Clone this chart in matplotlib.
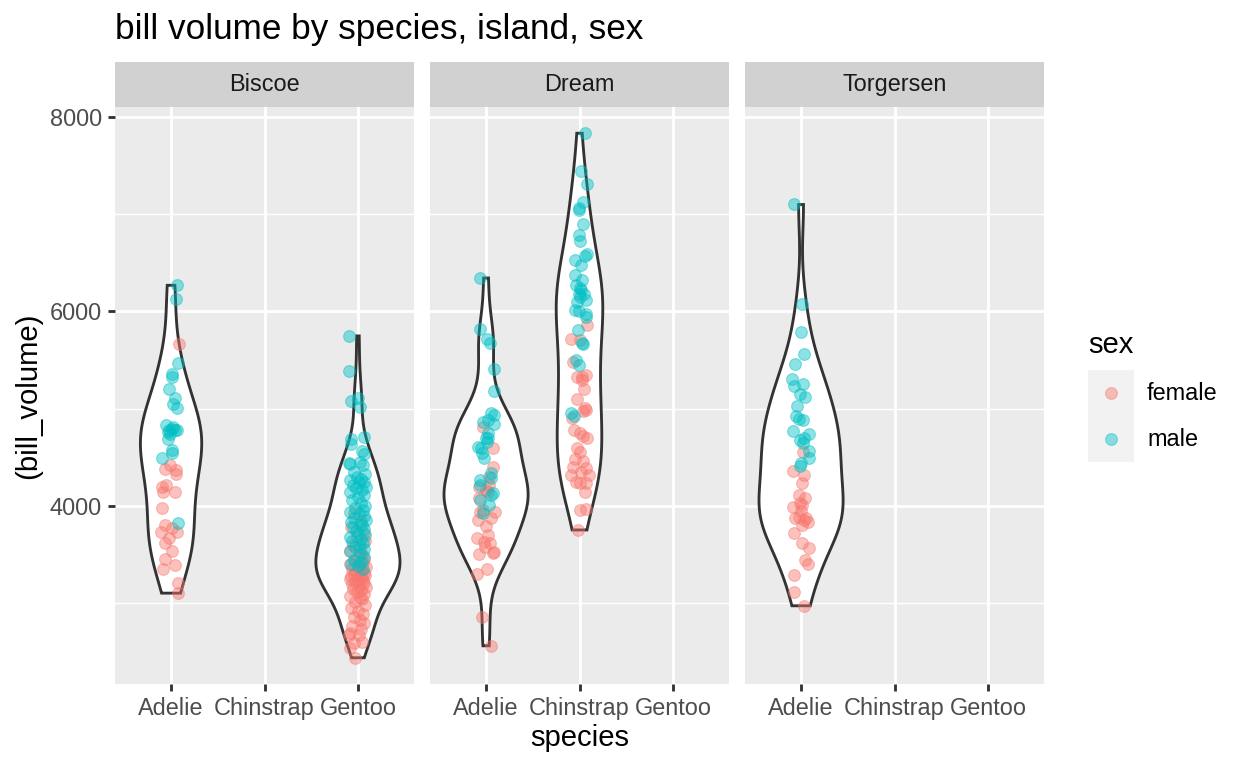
import numpy as np
import matplotlib
matplotlib.use("Agg")
import matplotlib.pyplot as plt

plt.rcParams['font.family'] = ['Liberation Sans', 'DejaVu Sans']

islands = ["Biscoe", "Dream", "Torgersen"]
species = ["Adelie", "Chinstrap", "Gentoo"]
sexes = ["female", "male"]
sex_colors = {"female": "#F8766D", "male": "#00BFC4"}
title = "bill volume by species, island, sex"
x_label = "species"
y_label = "(bill_volume)"
y_major = [4000, 6000, 8000]
y_minor = [3000, 5000, 7000]

# ---- Biscoe / Adelie ----
biscoe_adelie_female = [5662, 4380, 4370, 4328, 4216, 4198, 4147, 4147, 3983, 3805, 3737,
                        3771, 3737, 3669, 3618, 3542, 3454, 3395, 3351, 3214, 3105, 4420]
biscoe_adelie_female_dx = [0.09, -0.06, 0.05, 0.05, -0.05, -0.10, -0.09, 0.04, -0.10, -0.06, -0.11,
                           0.01, 0.06, -0.02, -0.06, 0.01, -0.07, 0.04, -0.09, 0.07, 0.07, -0.01]
biscoe_adelie_male = [6267, 6130, 5470, 5351, 5326, 5203, 5105, 5046, 5002, 4831, 4780,
                      4780, 4780, 4790, 4760, 4684, 4575, 4547, 4496, 3823, 4810, 4740]
biscoe_adelie_male_dx = [0.06, 0.05, 0.07, 0.01, 0.01, -0.02, 0.04, 0.02, 0.06, -0.05, -0.02,
                         0.06, 0.04, 0.01, -0.03, -0.03, 0.01, 0.01, -0.10, 0.07, 0.02, -0.01]

# ---- Biscoe / Gentoo ----
biscoe_gentoo_female = [3930, 3850, 3780, 3720, 3680, 3640, 3600, 3570, 3540, 3510,
                        3480, 3460, 3440, 3420, 3400, 3385, 3370, 3355, 3340, 3325,
                        3310, 3300, 3290, 3280, 3270, 3260, 3250, 3240, 3230, 3220,
                        3210, 3195, 3180, 3165, 3150, 3135, 3120, 3100, 3080, 3060,
                        3040, 3010, 2980, 2950, 2920, 2890, 2860, 2830, 2800, 2770,
                        2740, 2700, 2680, 2677, 2600, 2595, 2544, 2441]
biscoe_gentoo_female_dx = [-0.04, 0.03, -0.07, 0.06, -0.01, 0.08, -0.05, 0.02, -0.09, 0.04,
                           0.00, 0.07, -0.03, 0.05, -0.08, 0.01, 0.09, -0.06, 0.03, -0.02,
                           0.06, -0.04, 0.08, -0.07, 0.02, 0.04, -0.09, 0.00, 0.05, -0.03,
                           0.07, -0.06, 0.01, 0.09, -0.05, 0.03, -0.01, 0.06, -0.08, 0.02,
                           0.04, -0.03, 0.08, -0.07, 0.00, 0.05, -0.04, 0.02, 0.07, -0.06,
                           0.03, -0.08, 0.01, -0.10, 0.04, -0.04, -0.08, -0.03]
biscoe_gentoo_male = [5747, 5388, 5105, 5077, 5019, 4705, 4687, 4636, 4564, 4533,
                      4455, 4444, 4431, 4420, 4350, 4330, 4300, 4280, 4270, 4250,
                      4240, 4220, 4200, 4180, 4160, 4140, 4110, 4090, 4060, 4030,
                      4000, 3980, 3960, 3940, 3920, 3900, 3880, 3860, 3840, 3820,
                      3800, 3780, 3760, 3740, 3720, 3700, 3680, 3660, 3640, 3620,
                      3600, 3580, 3560, 3540, 3510, 3480, 3450, 3420, 3400, 3380, 3350]
biscoe_gentoo_male_dx = [-0.10, -0.10, 0.00, -0.07, 0.02, 0.06, -0.07, -0.07, 0.04, 0.06,
                         0.02, -0.10, -0.08, 0.05, -0.04, 0.08, -0.01, 0.03, -0.09, 0.06,
                         0.01, -0.05, 0.09, -0.02, 0.04, -0.08, 0.07, 0.00, -0.06, 0.03,
                         0.08, -0.03, 0.05, -0.09, 0.01, 0.06, -0.04, 0.09, -0.07, 0.02,
                         0.04, -0.05, 0.07, -0.02, 0.00, 0.08, -0.08, 0.03, -0.06, 0.05,
                         0.01, -0.03, 0.07, -0.09, 0.02, 0.06, -0.04, 0.03, -0.07, 0.00, 0.05]

# ---- Dream / Adelie ----
dream_adelie_female = [4814, 4592, 4397, 4198, 4147, 4215, 3942, 3857, 3936, 3798,
                       3669, 3634, 3618, 3505, 3515, 3526, 3354, 3303, 2855, 2564,
                       4160, 4300, 4080, 3960, 3880, 3700, 3580]
dream_adelie_female_dx = [-0.03, 0.07, 0.07, -0.08, 0.02, 0.03, -0.07, -0.09, 0.10, 0.00,
                          -0.10, -0.02, 0.04, -0.08, 0.07, 0.09, 0.01, -0.10, -0.04, 0.05,
                          0.00, 0.03, -0.08, -0.03, 0.05, 0.02, -0.01]
dream_adelie_male = [6342, 5822, 5713, 5679, 5412, 5180, 4951, 4933, 4838, 4865,
                     4882, 4746, 4694, 4660, 4608, 4598, 4541, 4496, 4335, 4284,
                     4267, 4215, 4130, 4113, 4062, 4010, 3925, 4700]
dream_adelie_male_dx = [-0.06, -0.06, 0.01, 0.04, 0.09, 0.09, 0.05, 0.09, 0.09, -0.03,
                        0.02, 0.02, 0.02, 0.01, -0.09, -0.05, -0.04, -0.02, 0.05, 0.05,
                        -0.06, -0.07, 0.07, 0.05, -0.07, 0.03, -0.03, 0.00]

# ---- Dream / Chinstrap ----
dream_chinstrap_female = [5856, 5720, 5703, 5480, 5320, 5320, 5344, 5292, 5094, 4900,
                          4978, 4985, 4780, 4746, 4718, 4694, 4557, 4479, 4465, 4403,
                          4387, 4318, 4318, 4250, 4239, 4233, 4147, 3959, 3966, 3754,
                          5200, 4600, 4350, 5010]
dream_chinstrap_female_dx = [0.08, -0.09, 0.01, -0.07, -0.03, 0.03, 0.07, 0.03, -0.03, -0.08,
                             0.04, 0.07, -0.06, 0.00, 0.04, 0.08, 0.00, -0.05, 0.04, -0.07,
                             0.07, -0.09, 0.10, -0.04, 0.00, 0.07, 0.06, 0.00, 0.07, -0.02,
                             0.05, -0.03, 0.02, 0.06]
dream_chinstrap_male = [7829, 7439, 7303, 7121, 7064, 7043, 6892, 6779, 6721, 6585,
                        6564, 6523, 6472, 6369, 6318, 6267, 6215, 6181, 6181, 6147,
                        6113, 6017, 6003, 5976, 5942, 5805, 5675, 5669, 5498, 5446,
                        4951, 6240, 6100, 4920]
dream_chinstrap_male_dx = [0.06, 0.02, 0.08, 0.04, -0.01, -0.01, 0.04, -0.01, 0.00, 0.08,
                           0.06, -0.05, 0.02, -0.05, 0.03, -0.04, 0.02, -0.01, 0.05, 0.00,
                           0.07, -0.05, -0.01, 0.07, 0.07, -0.02, 0.03, 0.04, -0.04, -0.01,
                           -0.09, 0.01, -0.03, -0.06]

# ---- Torgersen / Adelie ----
torgersen_adelie_female = [4557, 4359, 4318, 4239, 4113, 4028, 3993, 4010, 3874, 3884,
                           3874, 3839, 3805, 3720, 3624, 3566, 3446, 3405, 3292, 3121,
                           2975, 3950, 3860, 4080]
torgersen_adelie_female_dx = [0.02, -0.09, 0.03, 0.01, -0.02, -0.01, -0.09, 0.01, -0.06, -0.02,
                              0.05, 0.07, 0.01, -0.08, 0.01, 0.08, 0.04, 0.07, -0.08, -0.08,
                              0.03, 0.00, 0.03, 0.04]
torgersen_adelie_male = [7097, 6079, 5788, 5566, 5463, 5303, 5231, 5251, 5149, 5121,
                         5026, 4923, 4889, 4882, 4772, 4739, 4677, 4643, 4567, 4489,
                         4410, 4438, 4700]
torgersen_adelie_male_dx = [-0.08, 0.01, 0.00, 0.03, -0.06, -0.10, -0.08, 0.02, -0.01, 0.04,
                            -0.04, -0.05, -0.02, 0.02, -0.09, 0.08, -0.01, 0.02, 0.08, 0.08,
                            -0.01, 0.00, 0.03]

groups = {
    ("Biscoe", "Adelie"): {"female": (biscoe_adelie_female, biscoe_adelie_female_dx),
                           "male": (biscoe_adelie_male, biscoe_adelie_male_dx)},
    ("Biscoe", "Gentoo"): {"female": (biscoe_gentoo_female, biscoe_gentoo_female_dx),
                           "male": (biscoe_gentoo_male, biscoe_gentoo_male_dx)},
    ("Dream", "Adelie"): {"female": (dream_adelie_female, dream_adelie_female_dx),
                          "male": (dream_adelie_male, dream_adelie_male_dx)},
    ("Dream", "Chinstrap"): {"female": (dream_chinstrap_female, dream_chinstrap_female_dx),
                             "male": (dream_chinstrap_male, dream_chinstrap_male_dx)},
    ("Torgersen", "Adelie"): {"female": (torgersen_adelie_female, torgersen_adelie_female_dx),
                              "male": (torgersen_adelie_male, torgersen_adelie_male_dx)},
}


def violin(values):
    v = np.asarray(values, float)
    n = len(v)
    sd = v.std(ddof=1)
    q75, q25 = np.percentile(v, [75, 25])
    lo = min(sd, (q75 - q25) / 1.34)
    bw = 0.9 * lo * n ** -0.2
    grid = np.linspace(v.min(), v.max(), 512)
    dens = np.exp(-0.5 * ((grid[:, None] - v[None, :]) / bw) ** 2).sum(1) / (n * bw * np.sqrt(2 * np.pi))
    return grid, dens


all_vals = np.concatenate([np.asarray(d[s][0], float) for d in groups.values() for s in sexes])
vmin, vmax = all_vals.min(), all_vals.max()
pad = 0.05 * (vmax - vmin)
ylim = (vmin - pad, vmax + pad)

W, H = 1248, 768
fig = plt.figure(figsize=(W / 100, H / 100), dpi=100)

panel_x = [(115, 414), (430, 729), (745, 1044)]
strip_top, panel_top, panel_bottom = 62, 107, 684

LW = 2.05
PT_S = 72
PT_ALPHA = 0.45
for i, isl in enumerate(islands):
    x0, x1 = panel_x[i]
    ax = fig.add_axes([x0 / W, 1 - panel_bottom / H, (x1 - x0) / W, (panel_bottom - panel_top) / H])
    ax.set_facecolor("#EBEBEB")
    for sp in ax.spines.values():
        sp.set_visible(False)
    ax.set_xlim(0.4, 3.6)
    ax.set_ylim(*ylim)
    ax.set_xticks([1, 2, 3])
    ax.set_xticklabels(species)
    ax.set_yticks(y_major)
    ax.set_yticks(y_minor, minor=True)
    ax.grid(which="major", color="white", lw=LW, zorder=0)
    ax.grid(which="minor", axis="y", color="white", lw=LW / 2, zorder=0)
    ax.set_axisbelow(True)
    ax.tick_params(axis="both", which="major", length=5.3, width=LW, color="#333333",
                   labelsize=16.9, labelcolor="#4D4D4D", pad=4.2)
    ax.tick_params(axis="y", which="minor", length=0)
    if i > 0:
        ax.tick_params(axis="y", which="major", length=0, labelleft=False)

    # violins (area scaled within panel)
    present = [(j, sp) for j, sp in enumerate(species) if (isl, sp) in groups]
    outlines = {}
    for j, sp in present:
        vals = np.concatenate([np.asarray(groups[(isl, sp)][s][0], float) for s in sexes])
        outlines[sp] = violin(vals)
    dmax = max(d.max() for g, d in outlines.values())
    for j, sp in present:
        g, d = outlines[sp]
        hw = 0.45 * d / dmax
        pos = j + 1
        xs = np.concatenate([pos - hw, (pos + hw)[::-1]])
        ys = np.concatenate([g, g[::-1]])
        ax.fill(xs, ys, facecolor="white", edgecolor="#333333", lw=LW, zorder=2,
                joinstyle="miter")
        for s in sexes:
            vals, dx = groups[(isl, sp)][s]
            ax.scatter(pos + np.asarray(dx), vals, s=PT_S, color=sex_colors[s], alpha=PT_ALPHA,
                       edgecolors=sex_colors[s], linewidths=0.8, zorder=3)

    # strip
    sax = fig.add_axes([x0 / W, 1 - panel_top / H, (x1 - x0) / W, (panel_top - strip_top) / H])
    sax.set_facecolor("#D1D1D1")
    sax.set_xticks([])
    sax.set_yticks([])
    for sp in sax.spines.values():
        sp.set_visible(False)
    sax.text(0.5, 0.5, isl, ha="center", va="center", fontsize=16.9, color="#1A1A1A",
             transform=sax.transAxes)

fig.text(115 / W, 1 - 30 / H, title, ha="left", va="center", fontsize=25.3, color="black")
fig.text(579.5 / W, 1 - 738 / H, x_label, ha="center", va="center", fontsize=21.1)
fig.text(28 / W, 1 - 395.5 / H, y_label, ha="center", va="center", rotation=90, fontsize=21.1)

# legend
fig.text(1088 / W, 1 - 345 / H, "sex", ha="left", va="center", fontsize=21.1)
lax = fig.add_axes([1088 / W, 1 - 462 / H, 46 / W, 92 / H])
lax.set_facecolor("#F2F2F2")
lax.set_xlim(0, 1)
lax.set_ylim(0, 2)
lax.set_xticks([])
lax.set_yticks([])
for sp in lax.spines.values():
    sp.set_visible(False)
for k, s in enumerate(sexes):
    lax.scatter([0.5], [1.5 - k], s=PT_S, color=sex_colors[s], alpha=PT_ALPHA,
                edgecolors=sex_colors[s], linewidths=0.8)
    fig.text(1147 / W, 1 - (393 + 46 * k) / H, s, ha="left", va="center", fontsize=16.9)

fig.savefig("out.png", dpi=100)
